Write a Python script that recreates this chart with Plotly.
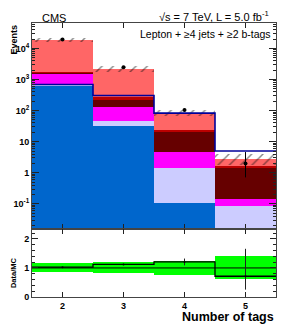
import numpy as np
import plotly.graph_objects as go

# ---- data ----
n_tags = [2, 3, 4, 5]
bin_edges = [1.5, 2.5, 3.5, 4.5, 5.5]
tick_vals_y = [0.1, 1, 10, 100, 1000, 10000]
tick_text_y = ["10<sup>-1</sup>", "1", "10", "10<sup>2</sup>", "10<sup>3</sup>", "10<sup>4</sup>"]

bkg_blue = [640, 32, 0.106, 0.003]
bkg_lavender = [60, 14, 1.35, 0.08]
bkg_magenta = [870, 84, 3.2, 0.064]
bkg_darkred = [80, 83, 16.8, 1.37]
bkg_red = [100, 59, 1.6, 0.1]
bkg_salmon = [17250, 1958, 64, 1.18]
signal_line = [695, 308, 83, 5.0]

data_vals = [19500, 2500, 105, 2]
data_err_up = [140, 50, 10.2, 2.64]
data_err_dn = [140, 50, 10.2, 1.29]
mc_rel_unc = [0.145, 0.19, 0.245, 0.385]

components = [
    ("blue", bkg_blue, "#0066cc"),
    ("lavender", bkg_lavender, "#ccccff"),
    ("magenta", bkg_magenta, "#ff00ff"),
    ("darkred", bkg_darkred, "#660000"),
    ("red", bkg_red, "#bb0000"),
    ("salmon", bkg_salmon, "#ff6666"),
]

FONT = "Liberation Sans, Arial, Helvetica, sans-serif"
fig = go.Figure()

cum = np.zeros(len(n_tags))
for i, (name, vals, col) in enumerate(components):
    vals = np.array(vals, dtype=float)
    fig.add_trace(go.Bar(
        x=n_tags, y=vals, base=(cum if i > 0 else None), width=1.0,
        marker=dict(color=col, line=dict(width=0)), showlegend=False,
        xaxis="x", yaxis="y"))
    cum = cum + vals
mc_total = cum

# MC uncertainty hatched band
rel = np.array(mc_rel_unc)
lo = mc_total * (1 - rel)
hi = mc_total * (1 + rel)
fig.add_trace(go.Bar(
    x=n_tags, y=hi - lo, base=lo, width=1.0,
    marker=dict(color="rgba(0,0,0,0)", line=dict(width=0),
                pattern=dict(shape="/", fgcolor="#111111", bgcolor="rgba(0,0,0,0)",
                             size=8, solidity=0.18)),
    showlegend=False, xaxis="x", yaxis="y"))

# signal outline
fig.add_trace(go.Scatter(
    x=bin_edges, y=list(signal_line) + [signal_line[-1]], mode="lines",
    line=dict(color="#000099", width=1.6, shape="hv"), showlegend=False,
    xaxis="x", yaxis="y"))

# data
fig.add_trace(go.Scatter(
    x=n_tags, y=data_vals, mode="markers",
    marker=dict(color="black", size=4),
    error_y=dict(type="data", array=data_err_up, arrayminus=data_err_dn,
                 color="black", thickness=1, width=0),
    showlegend=False, xaxis="x", yaxis="y"))

# ---- ratio panel ----
ratio = np.array(data_vals) / mc_total
r_up = np.array(data_err_up) / mc_total
r_dn = np.array(data_err_dn) / mc_total

fig.add_trace(go.Bar(
    x=n_tags, y=2 * rel, base=1 - rel, width=1.0,
    marker=dict(color="#00ff00", line=dict(width=0)), showlegend=False,
    xaxis="x2", yaxis="y2"))
fig.add_trace(go.Scatter(
    x=[bin_edges[0], bin_edges[-1]], y=[1, 1], mode="lines",
    line=dict(color="black", width=1), showlegend=False, xaxis="x2", yaxis="y2"))
fig.add_trace(go.Scatter(
    x=bin_edges, y=list(ratio) + [ratio[-1]], mode="lines",
    line=dict(color="black", width=1.3, shape="hv"), showlegend=False,
    xaxis="x2", yaxis="y2"))
fig.add_trace(go.Scatter(
    x=n_tags, y=ratio, mode="markers",
    marker=dict(color="black", size=2),
    error_y=dict(type="data", array=r_up, arrayminus=r_dn,
                 color="#222222", thickness=1, width=0),
    showlegend=False, xaxis="x2", yaxis="y2"))

split = 0.247
axis_common = dict(showline=True, linecolor="#444444", linewidth=1, mirror="ticks",
                   ticks="inside", tickcolor="#222222", showgrid=False, zeroline=False,
                   automargin=False)

fig.update_layout(
    width=283, height=320,
    margin=dict(l=24, r=15, t=14.5, b=30.5, autoexpand=False),
    paper_bgcolor="white", plot_bgcolor="white",
    barmode="overlay", bargap=0,
    font=dict(family=FONT, color="black"),
    xaxis=dict(domain=[0, 1], anchor="y", range=[1.5, 5.5], tickvals=n_tags,
               showticklabels=False, ticklen=5, **axis_common),
    yaxis=dict(domain=[split, 1], anchor="x", type="log", range=[-1.82, 4.82],
               tickmode="array", tickvals=tick_vals_y, ticktext=tick_text_y,
               ticklen=7, tickfont=dict(size=9, weight="bold"),
               minor=dict(dtick="D1", ticks="inside", ticklen=3, tickcolor="#222222"),
               **axis_common),
    xaxis2=dict(domain=[0, 1], anchor="y2", range=[1.5, 5.5], tickvals=n_tags,
                ticklen=5, tickfont=dict(size=9, weight="bold"), **axis_common),
    yaxis2=dict(domain=[0, split], anchor="x2", range=[0, 2.33],
                tickvals=[0, 1, 2], ticklen=6, tickfont=dict(size=9, weight="bold"),
                minor=dict(dtick=0.2, ticks="inside", ticklen=3, tickcolor="#222222"),
                **axis_common),
    annotations=[
        dict(text="CMS", xref="paper", yref="paper", x=0.033, y=1.019,
             xanchor="left", yanchor="middle", showarrow=False, font=dict(size=11)),
        dict(text="\u221as = 7 TeV, L = 5.0 fb<sup>-1</sup>", xref="paper", yref="paper",
             x=0.98, y=1.027, xanchor="right", yanchor="middle", showarrow=False,
             font=dict(size=11)),
        dict(text="Lepton + \u22654 jets + \u22652 b-tags", xref="paper", yref="paper",
             x=0.986, y=0.959, xanchor="right", yanchor="middle", showarrow=False,
             font=dict(size=10.5)),
        dict(text="<b>Events</b>", xref="paper", yref="paper", x=-0.0984, y=0.998,
             xanchor="left", yanchor="top", textangle=-90, showarrow=False,
             borderpad=0, font=dict(size=9)),
        dict(text="<b>Data/MC</b>", xref="paper", yref="paper", x=-0.0984, y=0.089,
             xanchor="left", yanchor="middle", textangle=-90, showarrow=False,
             borderpad=0, font=dict(size=7.5)),
        dict(text="<b>Number of tags</b>", xref="paper", yref="paper", x=1.0, y=-0.073,
             xanchor="right", yanchor="middle", showarrow=False, font=dict(size=12.5)),
    ],
)

fig.write_html("out.html")
